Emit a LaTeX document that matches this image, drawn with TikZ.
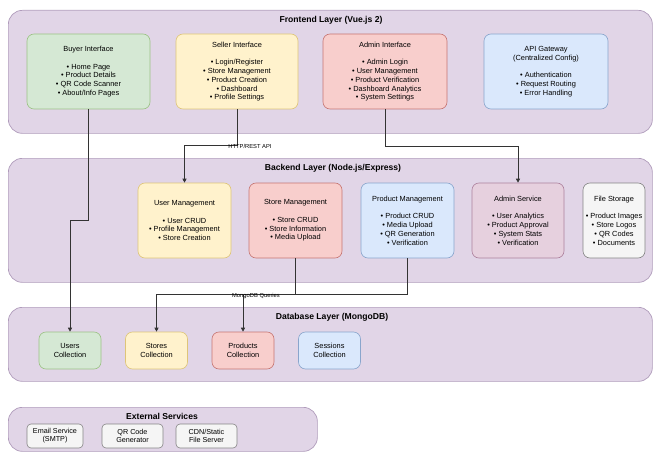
\documentclass[tikz,border=0pt]{standalone}
\usepackage{fontspec}
\setmainfont{Liberation Sans}
\usetikzlibrary{arrows.meta}

\definecolor{layerfill}{HTML}{E1D5E7}
\definecolor{layerdraw}{HTML}{B09CBB}
\definecolor{gfill}{HTML}{D5E8D4}\definecolor{gdraw}{HTML}{82B366}
\definecolor{yfill}{HTML}{FFF2CC}\definecolor{ydraw}{HTML}{D6B656}
\definecolor{rfill}{HTML}{F8CECC}\definecolor{rdraw}{HTML}{B85450}
\definecolor{bfill}{HTML}{DAE8FC}\definecolor{bdraw}{HTML}{6C8EBF}
\definecolor{pfill}{HTML}{E6D0DE}\definecolor{pdraw}{HTML}{996185}
\definecolor{sfill}{HTML}{F5F5F5}\definecolor{sdraw}{HTML}{666666}
\definecolor{linkc}{HTML}{333333}

\begin{document}
\begin{tikzpicture}[x=1pt,y=-1pt,
  layer/.style={draw=layerdraw, fill=layerfill, rounded corners=14pt,
    line width=0.7pt, inner sep=0pt, anchor=north west},
  layertitle/.style={font=\bfseries\fontsize{8.6}{10}\selectfont, inner sep=0pt},
  card/.style={rounded corners=7pt, line width=0.6pt, align=center,
    inner sep=0pt, font=\fontsize{7.4}{8.8}\selectfont},
  cardbig/.style={card, minimum height=75pt},
  cgreen/.style={fill=gfill, draw=gdraw!80},
  cyellow/.style={fill=yfill, draw=ydraw!80},
  cred/.style={fill=rfill, draw=rdraw!80},
  cblue/.style={fill=bfill, draw=bdraw!80},
  cpurple/.style={fill=pfill, draw=pdraw!80},
  cgray/.style={fill=sfill, draw=sdraw!80},
  coll/.style={card, minimum height=37pt, minimum width=62pt},
  ext/.style={card, cgray, rounded corners=4pt, minimum height=24pt,
    font=\fontsize{7.2}{8.2}\selectfont},
  link/.style={draw=linkc, line width=0.7pt},
  flow/.style={link, -{Triangle[length=4pt,width=4pt]}},
  tag/.style={font=\fontsize{5.8}{6}\selectfont, inner sep=0pt}
]
\useasboundingbox (0,0) rectangle (654,452);

% layers
\node[layer, minimum width=644pt, minimum height=123pt] (feLayer) at (8,10) {};
\node[layer, minimum width=644pt, minimum height=124pt] (beLayer) at (8,158) {};
\node[layer, minimum width=644pt, minimum height=74pt] (dbLayer) at (8,307) {};
\node[layer, minimum width=309pt, minimum height=44pt] (exLayer) at (8,407) {};

\node[layertitle] (feTitle) at (331,20) {Frontend Layer (Vue.js 2)};
\node[layertitle] (beTitle) at (333,168) {Backend Layer (Node.js/Express)};
\node[layertitle] (dbTitle) at (332,317) {Database Layer (MongoDB)};
\node[layertitle] (exTitle) at (162,416) {External Services};

% frontend
\node[cardbig, cgreen, minimum width=123pt] (buyer) at (88.5,71.5)
  {Buyer Interface\\~\\• Home Page\\• Product Details\\• QR Code Scanner\\• About/Info Pages};
\node[cardbig, cyellow, minimum width=122pt] (seller) at (237,71.5)
  {Seller Interface\\~\\• Login/Register\\• Store Management\\• Product Creation\\• Dashboard\\• Profile Settings};
\node[cardbig, cred, minimum width=124pt] (admin) at (385,71.5)
  {Admin Interface\\~\\• Admin Login\\• User Management\\• Product Verification\\• Dashboard Analytics\\• System Settings};
\node[cardbig, cblue, minimum width=124pt] (gateway) at (546,71.5)
  {API Gateway\\(Centralized Config)\\~\\• Authentication\\• Request Routing\\• Error Handling};

% backend
\node[cardbig, cyellow, minimum width=93pt] (userMgmt) at (184.5,220.5)
  {User Management\\~\\• User CRUD\\• Profile Management\\• Store Creation};
\node[cardbig, cred, minimum width=93pt] (storeMgmt) at (295.5,220.5)
  {Store Management\\~\\• Store CRUD\\• Store Information\\• Media Upload};
\node[cardbig, cblue, minimum width=93pt] (productMgmt) at (407.5,220.5)
  {Product Management\\~\\• Product CRUD\\• Media Upload\\• QR Generation\\• Verification};
\node[cardbig, cpurple, minimum width=92pt] (adminSvc) at (518,220.5)
  {Admin Service\\~\\• User Analytics\\• Product Approval\\• System Stats\\• Verification};
\node[cardbig, cgray, minimum width=62pt] (files) at (614,220.5)
  {File Storage\\~\\• Product Images\\• Store Logos\\• QR Codes\\• Documents};

% database
\node[coll, cgreen] (users) at (70,350.5) {Users\\Collection};
\node[coll, cyellow] (stores) at (156.5,350.5) {Stores\\Collection};
\node[coll, cred] (products) at (243,350.5) {Products\\Collection};
\node[coll, cblue] (sessions) at (329.5,350.5) {Sessions\\Collection};

% external services
\node[ext, minimum width=56pt] (email) at (55,436) {Email Service\\(SMTP)};
\node[ext, minimum width=61pt] (qrgen) at (132.5,436) {QR Code\\Generator};
\node[ext, minimum width=61pt] (cdn) at (206.5,436) {CDN/Static\\File Server};

% connectors
\draw[flow] (buyer.south) -- (88.5,220) -| (users.north);
\draw[flow] (seller.south) |- (184.5,145) -- (userMgmt.north);
\draw[flow] (admin.south) |- (518,146) -- (adminSvc.north);
\draw[flow] (storeMgmt.south) |- (156.5,294) -- (stores.north);
\draw[flow] (productMgmt.south) |- (243,294) -- (products.north);

\node[tag] (httpTag) at (250,146.5) {HTTP/REST API};
\node[tag] (mongoTag) at (256,296) {MongoDB Queries};
\end{tikzpicture}
\end{document}
